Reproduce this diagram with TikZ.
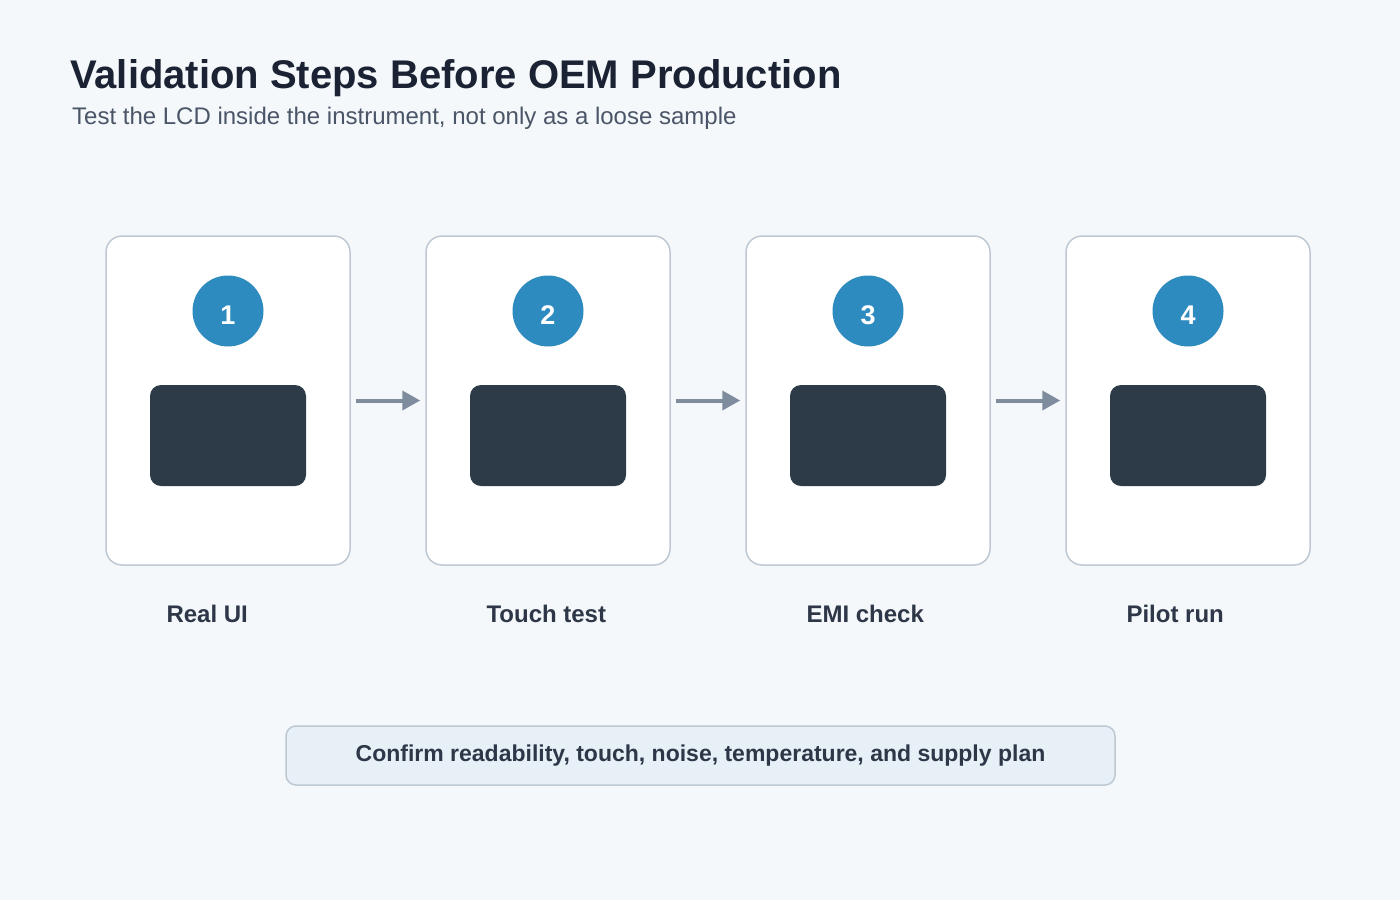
\documentclass[tikz,border=0pt]{standalone}
\usepackage{fontspec}
\setmainfont{Liberation Sans}
\usepackage{xcolor}
\usetikzlibrary{positioning,arrows.meta}

\definecolor{bgc}{HTML}{F4F8FA}
\definecolor{ttl}{HTML}{1A2233}
\definecolor{sub}{HTML}{4A5568}
\definecolor{edg}{HTML}{BFC9D3}
\definecolor{blu}{HTML}{2E8BC0}
\definecolor{scr}{HTML}{2D3A48}
\definecolor{arc}{HTML}{7F8C9E}
\definecolor{lbc}{HTML}{2D3748}
\definecolor{notef}{HTML}{E7EFF7}

\begin{document}
\begin{tikzpicture}[x=1pt, y=-1pt,
    card/.style={draw=edg, line width=1.5pt, fill=white, rounded corners=16pt,
                 minimum width=244pt, minimum height=329pt},
    num/.style={circle, fill=blu, minimum size=71pt, inner sep=0pt,
                text height=26.3pt, text depth=0pt,
                text=white, font=\bfseries\fontsize{27}{27}\selectfont},
    screen/.style={fill=scr, rounded corners=11pt, minimum width=156pt,
                   minimum height=101pt},
    lbl/.style={anchor=base west, text=lbc, font=\bfseries\fontsize{24}{24}\selectfont},
    arr/.style={-{Triangle[length=18pt, width=19pt]}, draw=arc, line width=4pt,
                shorten <=5pt, shorten >=5pt}
  ]
  \fill[bgc] (0,0) rectangle (1400,900);

  \node[anchor=base west, text=ttl, font=\bfseries\fontsize{40}{40}\selectfont, inner sep=0pt]
    (title) at (70,88) {Validation Steps Before OEM Production};
  \node[anchor=base west, text=sub, font=\fontsize{24}{24}\selectfont, inner sep=0pt]
    (subtitle) at (72,124) {Test the LCD inside the instrument, not only as a loose sample};

  \node[card] (card1) at (228,400.5) {};
  \node[card] (card2) at (548,400.5) {};
  \node[card] (card3) at (868,400.5) {};
  \node[card] (card4) at (1188,400.5) {};

  \node[num] (num1) at (228,311) {1};
  \node[num] (num2) at (548,311) {2};
  \node[num] (num3) at (868,311) {3};
  \node[num] (num4) at (1188,311) {4};

  \node[screen] (scr1) at (228,435.5) {};
  \node[screen] (scr2) at (548,435.5) {};
  \node[screen] (scr3) at (868,435.5) {};
  \node[screen] (scr4) at (1188,435.5) {};

  \node[lbl] (lbl1) at (163,622) {Real UI};
  \node[lbl] (lbl2) at (483,622) {Touch test};
  \node[lbl] (lbl3) at (803,622) {EMI check};
  \node[lbl] (lbl4) at (1123,622) {Pilot run};

  \draw[arr] (card1.east) -- (card2.west);
  \draw[arr] (card2.east) -- (card3.west);
  \draw[arr] (card3.east) -- (card4.west);

  \node[draw=edg, line width=1.5pt, fill=notef, rounded corners=10pt,
        minimum width=829pt, minimum height=59pt, text=lbc,
        font=\bfseries\fontsize{23}{23}\selectfont] (note) at (700.5,755.5)
    {Confirm readability, touch, noise, temperature, and supply plan};
\end{tikzpicture}
\end{document}
